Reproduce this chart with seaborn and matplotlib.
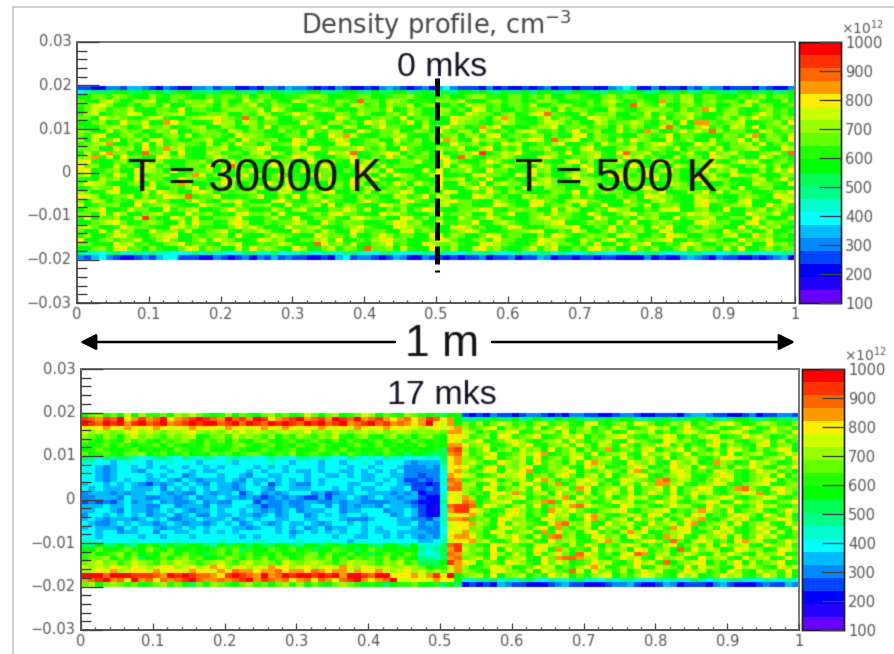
import numpy as np
import matplotlib
matplotlib.use("Agg")
import matplotlib.pyplot as plt
from matplotlib.colors import ListedColormap
import seaborn as sns

# Density, one letter per bin (a = lowest colour band, t = highest)
# 40 rows from y = 0.02 down to y = -0.02, 100 bins along x
top_rows = [
    "ddcceedffe dcedcceefd eeccdceedf eedcdcedcc dcefedcdec fgedddcecd ccdcdecddc ddccefgfcc ecddcedfee cdddcedcce",
    "gijjjkkjjk jkijkkjjij kkjjikjkji jjkkijjkkj ikjjkkijkj jjikkjkjik jjkikkjjik kjjikjjkki jkjjkijkkj jikkjjkijk",
    "kkmmlnmlkk nlkmmlkkml mmlnkmmkkl lmnnmkkllm mkklmmnlkk lmkkmnnllk mmkmlnkkmm lkkmnlmmlk kmmlnnkmml kkmlmnkmmk",
    "mlknomklnn okkmlnmmol nkkomnlmkk onllmknmlr mmkonmkllk nmmolkkmnl mmklnnmkkl lmknomklnl kqmlnokmnl mmkonlkknl",
    "lmopnkkmkn mlokkmnnmk nlmmoklnmm kkomllmkon lmknmmokmn lkmkonnlmk mmlokkmnnl kmlmnklrnm lokkmnlmmk kmnolnmkkm",
    "kmonlmmolk kmmlpkmmlk mnnmmokpnl kkmmonklkn mmloklnmkk nnlmkpolmk kmlmnnkoln mlkkomlkmn nmmknlmqok mnlkkmnlmk",
    "lnoklmmpok kmnnokklmm nkkmlonklm pnmkklnmlo mkkmnlomkk nmlkpnmmkm nkloprmlkk olmmnkkmlo kmlmnomkkl nnlkmpnlmk",
    "mmkpnnmlkm oolkkmnoop nmlrmkonkk mmolkkpnlk kmnmlpkmml kkponmmkoq nlkkmolnmk kponmlkkmn lpkmmolkkm nlompmmlnm",
    "kkmnklpmmo kkqpmmkklp nnkonlmmkk lpmmknnlmk pnollmpknk kkpnmmlkmo nllkmoonlm kkonlmmonl kmnkpkqqml mnokklmnlp",
    "lkkmnomklp mmnklmnokk nmkknlpkmm lllmpkkonk kmpmmlkkol npmmklqnpk lkkmnnpkmm nlmmkolnmk lprmkknplm konlpkmmol",
    "nmkkolnmmk lnmpkkmnmm konlmmkknl mkpmlnnkkp nlmmoklnmk pmlnnkpmlm knoollmkmp lmnkkolmkq nkkmpmomrn lmmkkonlmm",
    "mlopkkmnlm kkmnlokmmm lkpnnmlkkm mlokkpnqol kkmmnolkkm lmnknnlopk mmlnnkmkko pknmllkknm lmpkmmlkkk nmloqknmlo",
    "nkolmpkmnk oplmkkmmol knkpmmmnkk polkkmpnkl mnkkpmlnkm oqnlkpmnmm kmnpolrmop klnmkolpnm kkplmnkkol mmpkolmnkp",
    "lmnoqkkmlp kolmnmmkok nlpmmknlmm pnklkkopkl mmoknlmmkk klpmmnkmlp nokkmlnpkk lnkpmmlnkm opnlkkpnol kmnolpkmnl",
    "mmnkkomnkp lmqnolkkmn oklmnpokkl nkpolmmmnp mlnkkpmlkk nmmoklnpkm lnkmmolkmk oplkkmnolm nmlokmmnlo kmmnolkkpn",
    "kolpqmnklr mmokplkkon lmmknolpmk nomklpnork lmnpokmlnk oklmnpskmo nplkkmnlpk mnolkprmno lmkkmolkpm nolkkmnolr",
    "mnqlokpmmk kpomnlkkmo nlkmmnoklm pnolkkmnpl kmlpmnkmmk pokrnlkmmo nlkkopnlkm mnolkmpnol mkkolnmkpo nlmkkpnlmk",
    "oplkkmnklp mnlkkmmnlp komnlkkomm lkpmmnlkpm onlkkmmolk mpnlkkmpnl kmmpnlkkop lnkmmolnkk opnlkkmnnl kmpnolkmml",
    "pmnkkolmkn olmkkmmlpk mrnkklmpmo kmllpnkkmp nkolmmmkkl mpkonlmmko nlkkonlmmk pnllmkkpnl mkkonlmmpo nlkmmolnkm",
    "opklmnkkpo nmkpklmmnk plnmokkkln kolmmnkmlp onkplkkkol pkmmolkpmm kllpmnkkln mpkolnmmko lnpmkkkpln mokkknkomp",
    "nokmlpnkol mmnklmqoln kkmolnkmpl lknpmmlkkn mkolpnmklo pkklkopmml kpnolmkkno mlkkpomlmp nllmkknmol kpnmolkknm",
    "lkkomnlkpn mmklpnmmlk pnomlkkmmo lkknmolkpm nolkkmmllk pmnokmlpkk mkklnomklp nnmklpmmmk plnmkkplon mkklnokmpl",
    "mponlkkmnk olmmqnkklm pnkkmlpnko mlkkkomlpn kkmlpnkoml pkkomlpkno mmkpnomlkk onmlkkonml kkonmlkpkk mlkkonmlkp",
    "klnmmpkkln pkkmlnpkmm lnkkmoklnp mkolkkmkol npkmmlnkkm olkknpmolk mkolknmmkl knmmolkknp oklnmmkklm nkoklmnkkk",
    "nmklopkkko lpnmkkopnk mlmmnkkloo kkmlopkkml oknmmpokkm lpokkmlpmk nmlkkknmlp kolnmmkkln mpkklnmpko lnmmkklnmp",
    "ponklmmokn lmponrlmmo kkllmpkknl pkonlmmkkn lmkkonlmpk onkkkponlm kkonlmmkkn lmkkkmlmkp onmlkkonml kkmnmlkpon",
    "mkonkmlkon pmmkkmpmlk onpmkkkopm lkmmpmlkkn pmlkkopmlk nopmmlkkom lkkopmlkno pmmkkkpmlk nomlkkopnm lkopkklkop",
    "oklmmnkkpl mnomlkkpnm kkolmmnkkp lmmokpknml kkpomnlkkm nolmmkklpo mkkpolmmnk ollpkkmnlo kmmnkkopkl mnnokkpmnl",
    "kmnpkklomm kkplmnokkl npmmkklomk nolkkmmpnl okkmlnkmpo lkkmmnpolk mnmmkkplon kkmlpnnkkm loopkkmnkl pkkmmolnmk",
    "mmkolpnkkm nolkkpmmnk lkopmmnkpl kkmnlopmml kkpnomlkkm plmmnkkolm pkkmnlomml kpnkkmoplm nlkkmpnomm lkkpnmmokl",
    "lpkmmnklos mkkpnlokkm mnplkkmoll pkkmmnlkop nmmkkpolnk mkkomlmpnk lkkmopmnml kkpnllmkom nkkplmmnok lmmkpnkklo",
    "kkmnopmklm nmkkolpmmk lopnkkmlmm onkkpmlnmm kklmpomnkk ollmmpkkno mlkmmnopkk lnmmkolpkk mnmlkkopnm mkkoplnmml",
    "nomkklpnmm lkkpomnllk kmpnomkklp mmnolkkmnp mlkkponmml kkopnlmkkm polkkmnnop kkmlplmmnk ompkkmlnmm kkplmomnkk",
    "mkkplomnkk pmmnlokkmn plkmmonlkk pmnlomkkpn lmmkkoplnm kkmnpolkkl mmnopkkmlp nkkmolmmnk lpokkmnmlk pmmnklokkm",
    "lnkkmpomlk mnopkkmlmm nkplkkmonm lkkpnmmlok kmpnlmmkkp olnmkkmpol mmkknlpomk lnmmkopnkk mlponkkmml nokkpmnlmk",
    "pkkmnlmmok lnpmkkmolp nmkklpomnk kmmnolpkkm lnopmmkkln pomkkmnlpm mkklponmkk omlnpkkmlm nopkkmlnom kkpmmnolkk",
    "mmlkkpnolm kkmnplmmlk onpkkmlmon lkkrpmnlok kmnplmkkpo mmnlkkopnm lkkmpnommk nlpkkolmnp kkmlopnkkm mnlokkpmnl",
    "kkmnlopmmk nlkkmpolnm kkolpmnmlk pnkkmolnmk rmmnkolkkp mlnkkopmnl kkmolnpkkm lopmnkkpml nkkmolnmmk olpkkmnlmm",
    "ihhgijhhih ihhgghihih hghiihhjgh hihgihhiih hgiihghhih ihhgihiihg hihhiigihg hihhghhihi ihghhiihhg hihihghhih",
    "edfgedccde dfggdddcce dcdecedfde ddccdcfgde edcdfecced dcdcddecdd ecddfecddc ddcddcccce cdccefedce ddccdcdefc",
]

bottom_rows = [
    "kmnlmkoknl lmknmomlkl nkmlkmnlmk lomkmnklmo nkmlknmlkl jkkdcdcedd cdeedcdcee ddccdeedcc dddceffedd ccdecddeed",
    "srqsrtpqsq rtpqrstsrq trsqtspqrs tqrsqtsrtq rsqpqrpqsr pqkiijjkjj kijkjikjkj ijjkjkkiij jkijjkkiji jkkjijkjji",
    "tsrtstqstr stqrststtr strtsrtsts rtstrstqrs trsqrqpqtp oqkmlnkmon lmknolmnlk oplkmnlpom klnmokmlno pmklnomlkn",
    "popqpoqpop qpopoqpppo qpoopqpoqp opoqpopoqp opqpoponop opqnlmopkn mnlokmpnlm okmlonklmp nokmpmlonk lmpnklomnl",
    "ononmnopno nmonopnmnm onpnonmnon npmnmonmno nomnonmnmn mqqonkmlno pklmnolpkm nlmoklpnmo kmlnpomkln opmklnomlp",
    "nmlnmknomn mlnmnoklmn lomnmlnkml nmlnmolkmn lkmnlmkmnl kppolmnkpo lmnpklmonp kmlnopmlkm npokmlnpok lmpnomklnm",
    "mlkmlknlml kmlmnlkmlm kmlkmnlklm klmlkmkmlk lmklmkmlkl kpomnpklmo pnlkmnolpm kmnolkpnml kpomnlkmpn olkmnplokm",
    "lklmkmlkll mkmlklkmll kmnlklmklk mlkmlkklml kmklklkmkl kqqpmnolkm onplkmnolp mkonlpmknm oplnkmlopk nmlkoplmnk",
    "klmlkklmkl klkmlklmkk lmlkkmlklm kklmlkmklk klmklklkkl jrsnlmpkmn lomnkplmok nlmqkmnlop kmnplomknl pomknlmpok",
    "mklmlkmmnk lmklmklkml mklmmlkmln klmlkmkmlk lkmlkjkkjj jqrolmnpkl monpqklmon lpkmnolkpm nolmpkmnol pkmnolkmpn",
    "jihjijihgh iihgihhihg hihhggihhg iihihggihg hgihhghghg jpqnmlpokm nolpkmnlop kmnolpmkno lpkmnolkmp ponlkmnolp",
    "hhggfghggf gghgggfggg hfgggghggf gggfggfggh gfgggfefff ipqnomklpn mokplnmkol pqnmlkpnmo lkpnmoklqn mklpnomkln",
    "ggfefggfgf gfggfggfgf ggggfgfgfg gggfgggfgg fgggfeeefe hpppmkopln mopklnmolk pnoklmnpok lmpnokpmln kompnlkomp",
    "hgfefggfeg ggfggfgffg gggfgfggfg ffgfggffgf gfgfgeeeee hpqnlmpoko npqklmnopk mlnomkpqln mkopnlmkpo nlkmpnolmk",
    "ggfefggggf gfggefgggf ggfeggffgg gfggffgfgf fggffeedee gqponklmpn opkmnlopmk nolpkmnopl kmnpolkmnp olkmnolpkm",
    "ggfefgfggf fgfegfefff gfegffgfgf gfgfgggggf fgfgfddede hrqlmnpokm nolpqnkmlo pnmklponml qrmonlkmpn olkmnpokml",
    "fggfgfgfed fefgfgfegf fefgfgdfgf eegfgggffg gfggfeddcd hqrnoklpmn kopmlnqkmo nplmkonlpm qqnolkmnpo lkmnoplkmn",
    "gfgfffgfff gegfgfgfgf fefggfeggf ffgggfgfgf fggffgdded grrnmlpokm nolpkmnolq pkmnolpkmn olpkmnpolk mqrnlkopnm",
    "efffefeffg gfefeegfef fgdfgefefg ggefdeffgg fffefefcdd hopnlmkopn qmlnokpmnl okmpnlokmp nlokmpnolk mnpoqkmpnl",
    "eefffegffe effefgeffg ffefedefef eddfdffgfe fgffeffdcc hpoqnklpmn opkmlnoqkp mnlokmpnol kmpnlokmnp olkmnpolkm",
    "dededfgeff gefeefgefe egggdfeefe effeefeffe eeeffedccc iporqkmnop lkmnqrlpom nklmpnoklm pnolkmnpok lpmnolkmnp",
    "fffgffgffe eggefffegf fggffdeefe efggegefef fegfffedcb hrssrlpomk nolpkmnoqr pnmlkpomnl kmpnolkpmo nlkmpnolkm",
    "ffggfegffe fgfgfeffgf ggfgfefefg efffggeffg ggeffgfdcb hqsspomklo pnlmkqonpm lkmnoplkmn opkmlnqoml pkmnolkmpn",
    "eggfgfgfge ffgefgeegf fgffefgefg gefgfgfggf gggefgfdcc hoppqnklmp onkmlpnokm pqnlkmonlp okmnlpokml npomkpnlok",
    "fgfefffefg fgeeffgfff gefgfggffg gffgggfeee fgggffeedf hqqrlmnkpo mnlkpomnkl pqmlnokpmn lokmpnqlkm onplkmnpol",
    "gfeefgfgff efgfeffefg fgefgfefgf fgfefggfgf ggggffgefe hoppqnmkpl onmlkpqrnm olkpmnolkp mnolpqkmno lpkmnolkpm",
    "fgfffegfgg feffgfgfgg gffefggfgf gefgeffggf gfggggfeee goppmnlkop mnlopkqmln okpmnlokpm nlqopkmnlp olkmpnoklp",
    "ggfggeffgg eggffggfgf gfgggggfge fgfgfgfggf gffgffffee gpoqnmkpol mnokqlpmnk oplmkoqnpk lmnoplkmpn olkmnplokm",
    "ggfgggggfg gfgggfgggg ggfgfggggf gggggfggff ggfgfgfefe hpqqpmklon pmkolqrmnk lpomnkpolm kqnplkomnp lokmpnolkm",
    "hhggggghgg ggghgggggh gggghhgggg hggghggfgg gggggggffg hoppqnolkm pnolkpmnol kmpqnlkmop nlrmkopnlm kpqnolkmpn",
    "jikjjkjikl kjkjlkkjik jlkjkjjkkj ikkjlkjkkk jikkjikhhh jrsnmlkpon mlkopnmkol pnkmlopnkm lopkmnlokp mnolkpnmol",
    "kkmkklmlkn lkmkklkklm lmjlkkmlkm kljkkmlkjk mlkklkkihi jqsomnlpko mnlpokqnlm kplomnkpol mnkrlpmonk lpomnklpom",
    "lmklmnkmkl knmkmlkjlm kmlmklkmkk lmnkmlkmkl jkmlkmlhgh jrqnmlkpnl omkplnomkr pnlmkoprql nokmpnlkom pnlkomnpkl",
    "lmmnkmlnjk lmkmnlmkkl nmkmlnkmmk lnmlnkmkml mlnkmlkiih jqrmnolpkm nolkpmqrrq nolkmpnolk pmnolkpmno lkpmnoklpm",
    "mnomnlmonm lnmonmlmno mlnomnmlon mnonmlmonn mlnmolmjjj ksqpoknmlp onlkpmonkl mpnolkmpno lrkmnopkml npkolmnpkl",
    "ononponpon oppnopnoqp nopnooqppn opnopoqonp ononnonmkl loqnklmpon klmpnokmln pqoklnmpkl onmkplonml kpnomlkpno",
    "nopoqnoppo qoppoqppoq prqqpqqrpq qprqpqqoqp pqonopnomn moqnmlkopn mlokpnmlro kpmnlokmpn olkmpnolmk pnlkomnlpk",
    "tttrtttsss rqtstsrrqp stsrqtqrts ttststqtts rttpppqoqs ptkmnolpkm nokmlpnokm lnopkmlnpo mlkpnoklmp nolkmpnlok",
    "qrstqrptqr prqrstrqqr qrstqsrqrp qrprqprstq pqrtooppoq ppkhhiijhi hijhgihhij hhgihiihhg ihihhjigih iihhgihhih",
    "mnkmnmlmkl mnlmkjmknm lkmnlmkmnl nkmlkmnmlk lkjkllmkkl jkjcdcdcfe ddcccdefdd cccdeefdcc dfecdddcef dcccdeddfe",
]

levels = "abcdefghijklmnopqrst"
band_values = [122 + 45 * i for i in range(20)]
band_colors = ["#6600ff", "#2200ff", "#0000ff", "#0044ff", "#0088ff", "#00bbff", "#00ffff",
               "#00ffcc", "#00ff88", "#00ff55", "#00ff00", "#22ff00", "#66ff00", "#99ff00",
               "#ccff00", "#ffee00", "#ff9900", "#ff6600", "#ff3300", "#ff0000"]

x_major = [0, 0.1, 0.2, 0.3, 0.4, 0.5, 0.6, 0.7, 0.8, 0.9, 1]
x_labels = ["0", "0.1", "0.2", "0.3", "0.4", "0.5", "0.6", "0.7", "0.8", "0.9", "1"]
y_major = [0.03, 0.02, 0.01, 0, -0.01, -0.02, -0.03]
y_labels = ["0.03", "0.02", "0.01", "0", "\u22120.01", "\u22120.02", "\u22120.03"]
cbar_ticks = [100, 200, 300, 400, 500, 600, 700, 800, 900, 1000]

W, H = 894, 654
GREY = "#555555"

sns.set_theme(style="white")
plt.rcParams["font.family"] = ["Liberation Sans", "DejaVu Sans"]
plt.rcParams["mathtext.default"] = "regular"


def soften(radius):
    # the reference is an upscaled screenshot, so marks and text come out slightly soft
    kernel = np.exp(-0.5 * (np.arange(-3, 4) / radius) ** 2)
    kernel /= kernel.sum()

    def smooth(img):
        img = np.apply_along_axis(lambda m: np.convolve(m, kernel, mode="same"), 0, img)
        return np.apply_along_axis(lambda m: np.convolve(m, kernel, mode="same"), 1, img)

    def run(image, dpi):
        pad = 4
        img = np.pad(image, ((pad, pad), (pad, pad), (0, 0)))
        alpha = img[..., 3:]
        blurred = np.dstack([smooth(img[..., i] * alpha[..., 0]) for i in range(3)])
        new_alpha = smooth(alpha[..., 0])
        rgb = blurred / np.maximum(new_alpha[..., None], 1e-4)
        return np.clip(np.dstack([rgb, new_alpha]), 0, 1), -pad, -pad

    return run


def decode(rows):
    # white strips above and below the plasma stay empty
    grid = np.full((60, 100), np.nan)
    for i, row in enumerate(rows):
        cells = row.replace(" ", "")[:100].ljust(100, "m")
        grid[10 + i] = [band_values[levels.index(c)] for c in cells]
    return grid


def box(left, top, right, bottom):
    return [left / W, 1 - bottom / H, (right - left) / W, (bottom - top) / H]


def panel(rows, ax_box, cax_box):
    ax = fig.add_axes(box(*ax_box))
    cax = fig.add_axes(box(*cax_box))
    grid = decode(rows)
    sns.heatmap(grid, ax=ax, cbar_ax=cax, mask=np.isnan(grid), cmap=ListedColormap(band_colors),
                vmin=100, vmax=1000, cbar_kws={"ticks": cbar_ticks})
    ax.collections[0].set_agg_filter(soften(0.55))
    ax.set_axisbelow(False)
    cax.set_axisbelow(False)

    for side, spine in ax.spines.items():
        spine.set_visible(True)
        spine.set_color("#777777" if side in ("top", "right") else "#555555")
        spine.set_linewidth(1.4)

    ax.set_xticks([v * 100 for v in x_major])
    ax.set_xticklabels(x_labels, rotation=0, fontsize=10.5, color=GREY, family="DejaVu Sans")
    ax.set_xticks(np.arange(0, 101, 2), minor=True)
    ax.set_yticks([(0.03 - v) * 1000 for v in y_major])
    ax.set_yticklabels(y_labels, rotation=0, fontsize=10.5, color=GREY, family="DejaVu Sans")
    ax.set_yticks(np.arange(0, 61, 2), minor=True)
    ax.tick_params(axis="x", which="major", direction="in", length=5, width=1, color=GREY, pad=3, bottom=True)
    ax.tick_params(axis="x", which="minor", direction="in", length=2.5, width=1, color=GREY, bottom=True)
    ax.tick_params(axis="y", which="major", direction="in", length=16, width=1, color="#444444", pad=4, left=True)
    ax.tick_params(axis="y", which="minor", direction="in", length=7.5, width=1, color="#444444", left=True)

    cax.tick_params(axis="y", which="major", direction="in", length=16, width=1, color="#444444", right=True,
                    left=False, labelright=True, labelleft=False, pad=3)
    cax.set_yticks(cbar_ticks)
    cax.set_yticklabels([str(v) for v in cbar_ticks], fontsize=10.5, color=GREY, family="DejaVu Sans")
    for spine in cax.spines.values():
        spine.set_visible(True)
        spine.set_color("#222222")
        spine.set_linewidth(1)
    unit = cax.text(1.0, 1.02, "\u00d710$^{12}$", transform=cax.transAxes, fontsize=10, color=GREY,
                    family="DejaVu Sans", va="bottom", ha="left")
    unit.set_agg_filter(soften(0.6))
    for label in ax.get_xticklabels() + ax.get_yticklabels() + cax.get_yticklabels():
        label.set_agg_filter(soften(0.6))
    return ax


fig = plt.figure(figsize=(W / 100, H / 100), dpi=100)

panel(top_rows, (77, 42, 795, 303), (799, 42, 841, 303))
panel(bottom_rows, (81, 369, 799, 630), (802, 369, 844, 630))

# annotations sit on a full figure layer measured in pixels
over = fig.add_axes([0, 0, 1, 1], facecolor="none")
over.set_xlim(0, W)
over.set_ylim(H, 0)
over.axis("off")

over.plot([12.5, 12.5], [7, 654], color="#c8c8c8", lw=1.2)
over.plot([12.5, 894], [7, 7], color="#c8c8c8", lw=1.2)

notes = [
    over.text(436, 25, "Density profile, cm$^{-3}$", ha="center", va="center", fontsize=18.5,
              color="#444444", family="DejaVu Sans"),
    over.text(442, 67, "0 mks", ha="center", va="center", fontsize=24.3, color="#111122"),
    over.text(255, 179, "T = 30000 K", ha="center", va="center", fontsize=33.5, color="#111111"),
    over.text(616, 179, "T = 500 K", ha="center", va="center", fontsize=33.5, color="#111111"),
    over.text(442, 345, "1 m", ha="center", va="center", fontsize=32, color="#111111"),
    over.text(442, 395, "17 mks", ha="center", va="center", fontsize=24.5, color="#111122"),
]
for note in notes:
    note.set_agg_filter(soften(0.6))

over.plot([437, 437], [78, 272], color="black", lw=3.6, linestyle=(0, (3.6, 1.2)))
for start, end in [(395, 80), (492, 795)]:
    over.annotate("", xy=(end, 342), xytext=(start, 342),
                  arrowprops=dict(arrowstyle="-|>", mutation_scale=24, lw=1.8, color="black",
                                  shrinkA=0, shrinkB=0))

fig.savefig("out.png", dpi=100)
